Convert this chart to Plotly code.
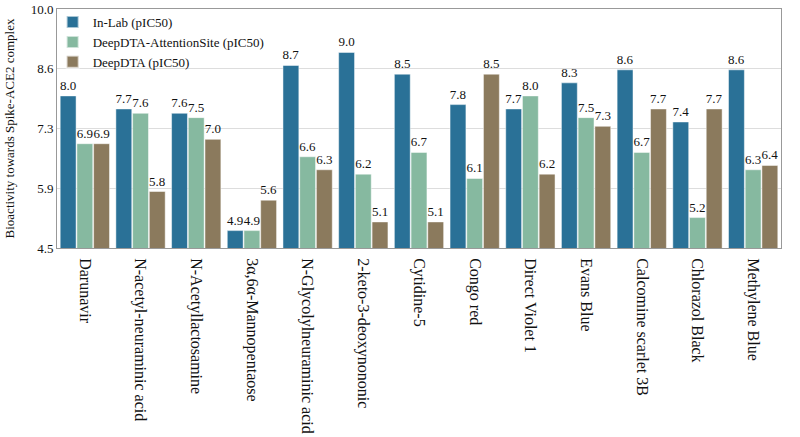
import plotly.graph_objects as go

categories = ["Darunavir", "N-acetyl-neuraminic acid", "N-Acetyllactosamine",
              "3α,6α-Mannopentaose", "N-Glycolylneuraminic acid", "2-keto-3-deoxynononic",
              "Cytidine-5", "Congo red", "Direct Violet 1", "Evans Blue",
              "Calcomine scarlet 3B", "Chlorazol Black", "Methylene Blue"]
in_lab = [8.0, 7.7, 7.6, 4.9, 8.7, 9.0, 8.5, 7.8, 7.7, 8.3, 8.6, 7.4, 8.6]
attention_site = [6.9, 7.6, 7.5, 4.9, 6.6, 6.2, 6.7, 6.1, 8.0, 7.5, 6.7, 5.2, 6.3]
deepdta = [6.9, 5.8, 7.0, 5.6, 6.3, 5.1, 5.1, 8.5, 6.2, 7.3, 7.7, 7.7, 6.4]
tick_vals = [4.5, 5.875, 7.25, 8.625, 10.0]
tick_text = ["4.5", "5.9", "7.3", "8.6", "10.0"]

series = [("In-Lab (pIC50)", in_lab, "#2a7197"),
          ("DeepDTA-AttentionSite (pIC50)", attention_site, "#86b9a0"),
          ("DeepDTA (pIC50)", deepdta, "#8b7a5d")]

font = "Liberation Serif, Times New Roman, serif"
fig = go.Figure()
for name, vals, col in series:
    fig.add_trace(go.Bar(
        x=categories, y=vals, name=name,
        marker=dict(color=col, line=dict(color="rgba(255,255,255,0.6)", width=0.8)),
        text=[f"{v:.1f}" for v in vals], textposition="outside",
        textfont=dict(family=font, size=13, color="#111"),
        constraintext="none", cliponaxis=False,
    ))

fig.update_layout(
    width=800, height=437,
    margin=dict(l=57, r=19, t=7, b=189),
    barmode="group", bargap=0.1, bargroupgap=0.05,
    plot_bgcolor="white", paper_bgcolor="white",
    font=dict(family=font, size=13, color="#111"),
    showlegend=True,
    legend=dict(x=-0.006, y=1.008, xanchor="left", yanchor="top",
                bgcolor="rgba(255,255,255,0)", font=dict(family=font, size=13),
                tracegroupgap=0, itemsizing="constant"),
)
fig.update_yaxes(range=[4.5, 10.0], tickvals=tick_vals, ticktext=tick_text,
                 showgrid=True, gridcolor="#dddddd", gridwidth=1,
                 showline=True, linecolor="#999999", mirror=True, linewidth=1,
                 ticks="", zeroline=False, automargin=False,
                 title=dict(text="Bioactivity towards Spike-ACE2 complex",
                            font=dict(family=font, size=13), standoff=13),
                 tickfont=dict(family=font, size=13))
fig.update_xaxes(tickangle=90, showline=True, linecolor="#999999", mirror=True,
                 linewidth=1, ticks="", automargin=False, ticklabelstandoff=6,
                 tickfont=dict(family=font, size=16))

fig.write_html("out.html", config={"displayModeBar": False},
               post_script="document.body.style.margin='0';")
